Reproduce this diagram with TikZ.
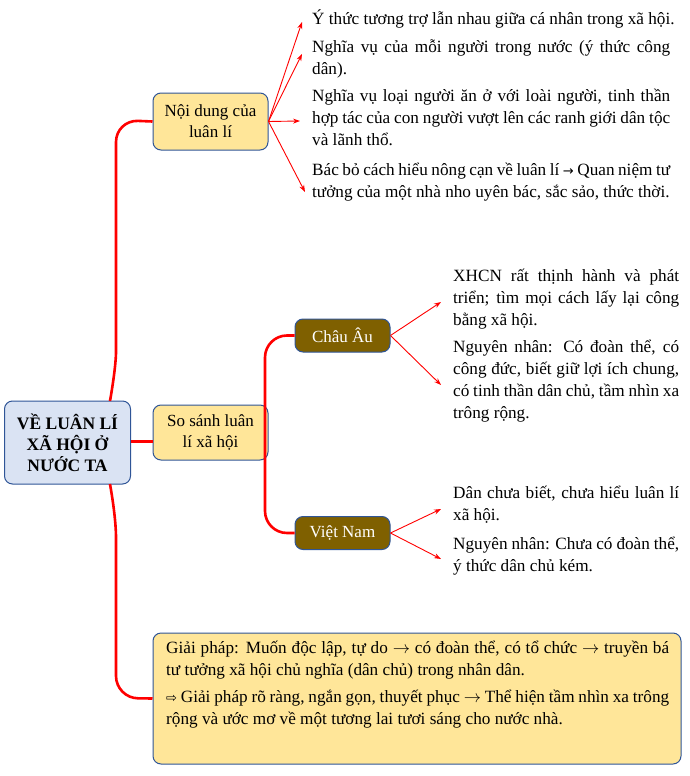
\documentclass[tikz,border=0pt]{standalone}
\usepackage{fontspec}
\setmainfont{Liberation Serif}
\usetikzlibrary{arrows.meta}
\definecolor{yel}{HTML}{FFE699}
\definecolor{bluf}{HTML}{DAE3F3}
\definecolor{edge}{HTML}{2F5597}
\definecolor{brn}{HTML}{7F6000}
\begin{document}
\begin{tikzpicture}[x=1pt,y=-1pt,
  box/.style={draw=edge,line width=1pt,rounded corners=8pt,align=center,inner sep=0pt,font=\fontsize{17}{21}\selectfont},
  ybox/.style={box,fill=yel,minimum width=115pt,minimum height=57pt},
  bbox/.style={box,fill=brn,text=white,minimum width=95pt,minimum height=33pt},
  txt/.style={anchor=north west,align=justify,inner sep=0pt,font=\fontsize{17.2}{22}\selectfont},
  br/.style={red,line width=2.6pt,rounded corners=22pt},
  ar/.style={red,line width=0.9pt,-{Stealth[length=7pt,width=5pt]}}]
\useasboundingbox (0,0) rectangle (689,776);
\node[box,fill=bluf,minimum width=126pt,minimum height=83pt,font=\fontsize{17.5}{21}\selectfont\bfseries] (cen) at (67.5,442.5) {VỀ LUÂN LÍ\\XÃ HỘI Ở\\NƯỚC TA};
\node[ybox] (nd) at (210.5,121.5) {Nội dung của\\luân lí};
\node[ybox,minimum height=55pt] (ss) at (210.5,432.5) {So sánh luân\\lí xã hội};
\node[bbox] (ca) at (342.5,335.5) {Châu Âu};
\node[bbox] (vn) at (342.5,533) {Việt Nam};
\node[box,fill=yel,minimum width=528pt,minimum height=131pt] (gp) at (417,698.5) {};
\node[txt,text width=503pt] (gpt) at (166,641) {Giải pháp: Muốn độc lập, tự do \(\rightarrow\) có đoàn thể, có tổ chức \(\rightarrow\) truyền bá tư tưởng xã hội chủ nghĩa (dân chủ) trong nhân dân.\\[5pt]
{\fontspec{DejaVu Sans}\fontsize{13}{22}\selectfont ⇨} Giải pháp rõ ràng, ngắn gọn, thuyết phục \(\rightarrow\) Thể hiện tầm nhìn xa trông rộng và ước mơ về một tương lai tươi sáng cho nước nhà.};
\node[txt,text width=370pt] (t1) at (312,10) {Ý thức tương trợ lẫn nhau giữa cá nhân trong xã hội.};
\node[txt,text width=358pt] (t2) at (312,40) {Nghĩa vụ của mỗi người trong nước (ý thức công dân).};
\node[txt,text width=358pt] (t3) at (312,89) {Nghĩa vụ loại người ăn ở với loài người, tinh thần hợp tác của con người vượt lên các ranh giới dân tộc và lãnh thổ.};
\node[txt,text width=358pt] (t4) at (312,163) {Bác bỏ cách hiểu nông cạn về luân lí {\fontspec{DejaVu Sans}\fontsize{13}{22}\selectfont →} Quan niệm tư tưởng của một nhà nho uyên bác, sắc sảo, thức thời.};
\node[txt,text width=226pt] (r1) at (453,269) {XHCN rất thịnh hành và phát triển; tìm mọi cách lấy lại công bằng xã hội.};
\node[txt,text width=226pt] (r2) at (453,340) {Nguyên nhân: Có đoàn thể, có công đức, biết giữ lợi ích chung, có tinh thần dân chủ, tầm nhìn xa trông rộng.};
\node[txt,text width=226pt] (r3) at (453,486) {Dân chưa biết, chưa hiểu luân lí xã hội.};
\node[txt,text width=226pt] (r4) at (453,537) {Nguyên nhân: Chưa có đoàn thể, ý thức dân chủ kém.};
\coordinate (a) at (110,401);
\coordinate (b) at (110,484);
\draw[br] (a) to[out=80,in=-90] (116,330) -- (116,120) -- (nd.west);
\draw[br] (b) to[out=-80,in=90] (116,560) -- (116,698) -- (gp.west);
\draw[red,line width=3pt] (cen.east |- 0,441) -- (ss.west |- 0,441);
\draw[br] (ca.west) -- (265,335.5) -- (265,533) -- (vn.west);
\draw[ar] (nd.east) -- (302,22);
\draw[ar] (nd.east) -- (302,54);
\draw[ar] (nd.east) -- (300,121);
\draw[ar] (nd.east) -- (305,192);
\draw[ar] (ca.east) -- (441,302);
\draw[ar] (ca.east) -- (441,385);
\draw[ar] (vn.east) -- (441,509);
\draw[ar] (vn.east) -- (441,559);
\end{tikzpicture}
\end{document}
